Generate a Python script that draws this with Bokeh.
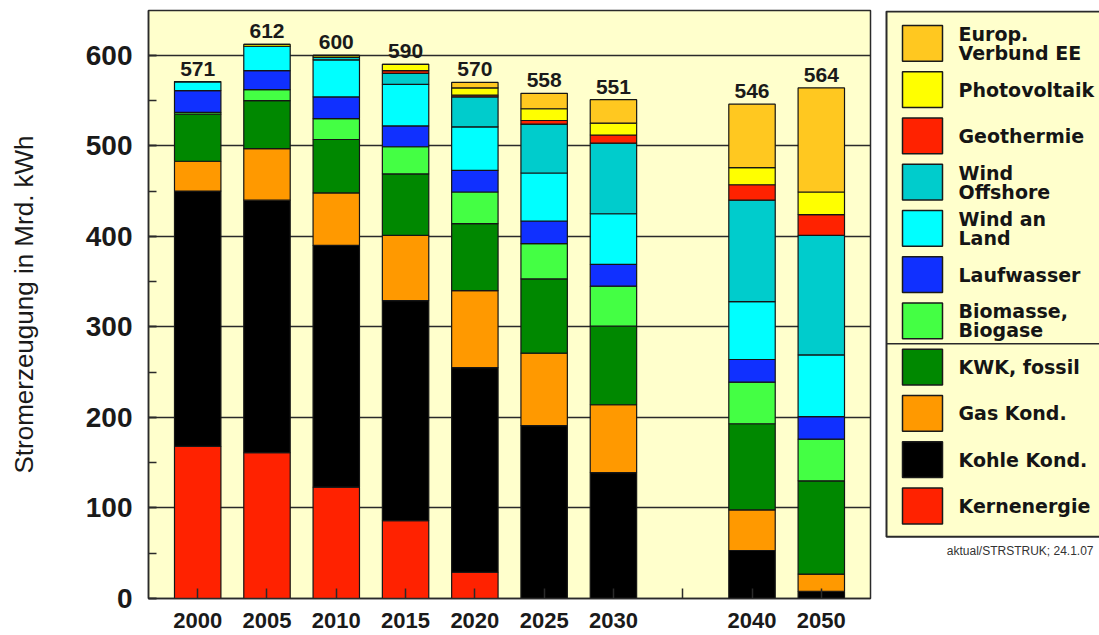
from bokeh.plotting import figure
from bokeh.models import FactorRange, Range1d, SingleIntervalTicker, ColumnDataSource
from bokeh.layouts import row
from bokeh.core.properties import value
from bokeh.embed import file_html
from bokeh.resources import INLINE

# ---------------- data ----------------
years = ["2000", "2005", "2010", "2015", "2020", "2025", "2030", "2040", "2050"]
x_factors = ["2000", "2005", "2010", "2015", "2020", "2025", "2030", " ", "2040", "2050"]
totals = [571, 612, 600, 590, 570, 558, 551, 546, 564]

kernenergie = [168, 161, 123, 86, 29, 0, 0, 0, 0]
kohle_kond = [282, 279, 267, 243, 226, 191, 139, 53, 8]
gas_kond = [33, 57, 58, 72, 85, 80, 75, 45, 19]
kwk_fossil = [52, 53, 59, 68, 74, 82, 87, 95, 103]
biomasse = [2, 12, 23, 30, 35, 39, 44, 46, 46]
laufwasser = [24, 21, 24, 23, 24, 25, 24, 25, 25]
wind_land = [10, 27, 41, 46, 48, 53, 56, 64, 68]
wind_offshore = [0, 0, 3, 12, 33, 54, 78, 112, 132]
geothermie = [0, 0, 0, 3, 2, 4, 9, 17, 23]
photovoltaik = [0, 2, 2, 7, 8, 13, 13, 19, 25]
europ_ee = [0, 0, 0, 0, 6, 17, 26, 70, 115]

# stack order bottom -> top
series_keys = ["kern", "kohle", "gas", "kwk", "bio", "lauf", "land", "offshore", "geo", "pv", "europ"]
series_values = [kernenergie, kohle_kond, gas_kond, kwk_fossil, biomasse, laufwasser,
                 wind_land, wind_offshore, geothermie, photovoltaik, europ_ee]
series_labels = ["Kernenergie", "Kohle Kond.", "Gas Kond.", "KWK, fossil", "Biomasse,\nBiogase",
                 "Laufwasser", "Wind an\nLand", "Wind\nOffshore", "Geothermie", "Photovoltaik",
                 "Europ.\nVerbund EE"]
series_colors = ["#FF2200", "#000000", "#FF9900", "#008800", "#44FF44", "#1030FF",
                 "#00FFFF", "#00CCCC", "#FF2200", "#FFFF00", "#FFC820"]

y_label = "Stromerzeugung in Mrd. kWh"
footnote = "aktual/STRSTRUK; 24.1.07"

BG = "#FFFFCC"
DARK = "#2a2a2a"
FONT = "Liberation Sans"

# ---------------- main chart ----------------
data = {"year": years, "total": totals, "total_txt": [str(t) for t in totals]}
for k, v in zip(series_keys, series_values):
    data[k] = v
src = ColumnDataSource(data)

p = figure(width=880, height=635, output_backend="svg", toolbar_location=None,
           x_range=FactorRange(factors=x_factors, range_padding=0.21, range_padding_units="absolute"),
           y_range=Range1d(0, 649.5),
           min_border_left=148, min_border_right=10, min_border_top=10, min_border_bottom=34)

p.background_fill_color = BG
p.border_fill_color = "white"
p.outline_line_color = DARK
p.outline_line_width = 1.5

p.vbar_stack(series_keys, x="year", width=0.67, source=src,
             fill_color=series_colors, line_color="#151515", line_width=1.2)

p.text(x="year", y="total", text="total_txt", source=src,
       text_font=value(FONT), text_font_style="bold", text_font_size="21px",
       text_color="#1a1a1a", text_align="center", text_baseline="middle", y_offset=-13)

p.xgrid.grid_line_color = None
p.ygrid.ticker = SingleIntervalTicker(interval=100)
p.ygrid.grid_line_color = DARK
p.ygrid.grid_line_width = 1.5

yax = p.yaxis[0]
yax.ticker = SingleIntervalTicker(interval=100, num_minor_ticks=2)
yax.major_tick_in = 8
yax.major_tick_out = 0
yax.minor_tick_in = 8
yax.minor_tick_out = 0
yax.major_tick_line_color = DARK
yax.minor_tick_line_color = DARK
yax.major_tick_line_width = 1.5
yax.minor_tick_line_width = 1.5
yax.axis_line_color = DARK
yax.axis_line_width = 1.5
yax.major_label_text_font = FONT
yax.major_label_text_font_style = "bold"
yax.major_label_text_font_size = "28px"
yax.major_label_text_color = "#1a1a1a"
yax.major_label_standoff = 16
yax.axis_label = y_label
yax.axis_label_text_font = FONT
yax.axis_label_text_font_style = "normal"
yax.axis_label_text_font_size = "26px"
yax.axis_label_text_color = "#1a1a1a"
yax.axis_label_standoff = 44

xax = p.xaxis[0]
xax.major_tick_in = 10
xax.major_tick_out = 0
xax.major_tick_line_color = DARK
xax.major_tick_line_width = 1.5
xax.axis_line_color = DARK
xax.axis_line_width = 1.5
xax.major_label_text_font = FONT
xax.major_label_text_font_style = "bold"
xax.major_label_text_font_size = "22px"
xax.major_label_text_color = "#1a1a1a"
xax.major_label_standoff = 9

# ---------------- legend panel ----------------
# (frame of this panel is aligned with the main frame: pixel rows 10..601)
lg = figure(width=219, height=635, output_backend="svg", toolbar_location=None,
            x_range=Range1d(0, 219), y_range=Range1d(601, 10),
            min_border_left=0, min_border_right=0, min_border_top=10, min_border_bottom=34,
            x_axis_location=None, y_axis_location=None)
lg.grid.visible = False
lg.outline_line_color = None
lg.background_fill_color = "white"
lg.border_fill_color = "white"

box_top, box_bottom, box_left = 11, 539, 6
lg.quad(left=[box_left], right=[240], top=[box_top], bottom=[box_bottom],
        fill_color=BG, line_color=DARK, line_width=2)
lg.segment(x0=[box_left], x1=[240], y0=[345], y1=[345], line_color=DARK, line_width=1.5)

leg_labels = series_labels[::-1]
leg_colors = series_colors[::-1]
pitch = 46.5
centers = [43 + pitch * i for i in range(len(leg_labels))]
lg.quad(left=[22] * len(centers), right=[62] * len(centers),
        top=[c - 18 for c in centers], bottom=[c + 18 for c in centers],
        fill_color=leg_colors, line_color="#1a1a1a", line_width=1.5)

tx, ty, tt = [], [], []
for c, lab in zip(centers, leg_labels):
    lines = lab.split("\n")
    if len(lines) == 1:
        tx.append(78); ty.append(c); tt.append(lines[0])
    else:
        tx.append(78); ty.append(c - 9.5); tt.append(lines[0])
        tx.append(78); ty.append(c + 9.5); tt.append(lines[1])
lg.text(x=tx, y=ty, text=tt, text_font=value("DejaVu Sans"), text_font_style="bold",
        text_font_size="19px", text_color="#151515", text_align="left",
        text_baseline="middle")

lg.text(x=[213], y=[553], text=[footnote], text_font=value(FONT), text_font_size="12px",
        text_color="#333333", text_align="right", text_baseline="middle")

layout = row(p, lg, spacing=0)
open("out.html", "w").write(file_html(layout, INLINE))
